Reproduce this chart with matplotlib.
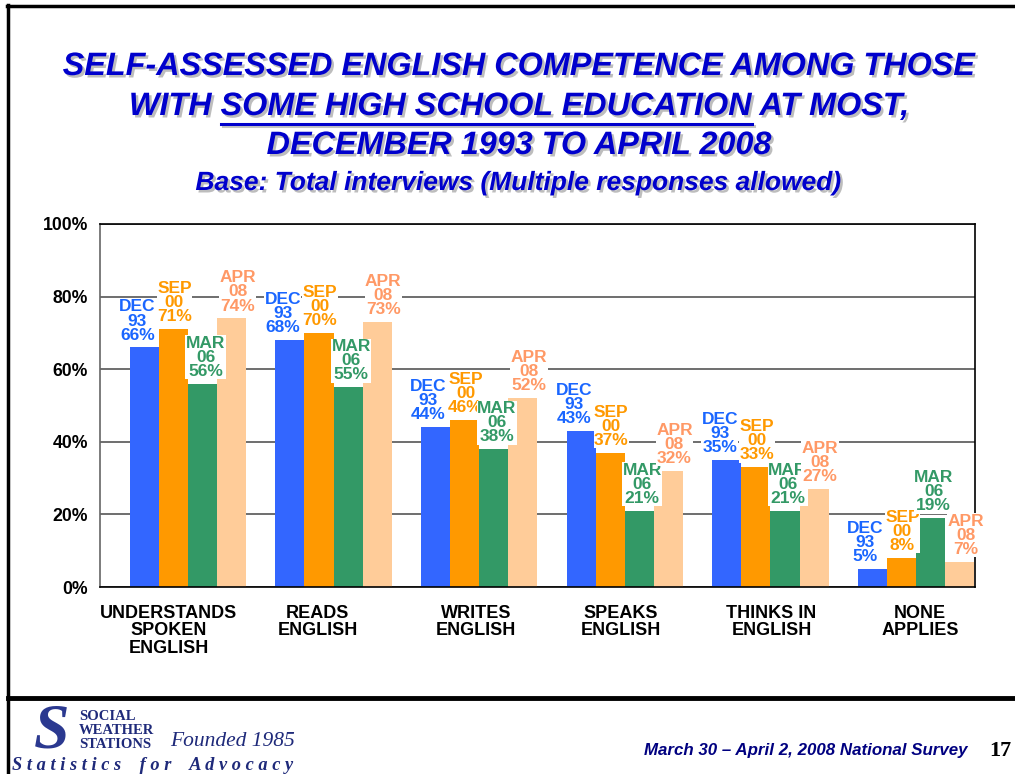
import matplotlib
matplotlib.use("Agg")
import matplotlib.pyplot as plt
import matplotlib.patheffects as pe
from matplotlib.lines import Line2D
import numpy as np

categories = ["UNDERSTANDS\nSPOKEN\nENGLISH", "READS\nENGLISH", "WRITES\nENGLISH",
              "SPEAKS\nENGLISH", "THINKS IN\nENGLISH", "NONE\nAPPLIES"]
series_names = ["DEC\n93", "SEP\n00", "MAR\n06", "APR\n08"]
dec93 = [66, 68, 44, 43, 35, 5]
sep00 = [71, 70, 46, 37, 33, 8]
mar06 = [56, 55, 38, 21, 21, 19]
apr08 = [74, 73, 52, 32, 27, 7]
yticks = [0, 20, 40, 60, 80, 100]
ytick_labels = ["0%", "20%", "40%", "60%", "80%", "100%"]

series = [dec93, sep00, mar06, apr08]
bar_colors = ["#3366FF", "#FF9900", "#339966", "#FFCC99"]
label_colors = ["#1A66FF", "#FF9900", "#339966", "#FF9966"]
label_dx = [-7, 1, 3, 6]  # pixel offsets of value labels
cat_dx = [-19, -16, -3, -4, 1, 4]  # pixel offsets of category labels

plt.rcParams['font.family'] = ['Liberation Sans', 'DejaVu Sans']

W, H = 1015, 774
fig = plt.figure(figsize=(W / 100, H / 100), dpi=100)

def fx(px):
    return px / W

def fy(py):
    return 1 - py / H

# slide frame
fig.add_artist(Line2D([fx(8), fx(8)], [fy(5), fy(774)], color="black", lw=2.5))
fig.add_artist(Line2D([fx(7), fx(1015)], [fy(6), fy(6)], color="black", lw=2.5))
fig.add_artist(Line2D([fx(8), fx(1015)], [fy(698), fy(698)], color="black", lw=3.5))

# axes
ax = fig.add_axes([fx(100), fy(587), fx(975) - fx(100), fy(224) - fy(587)])
x = np.arange(len(categories))
bw = 0.2
for k, (vals, c) in enumerate(zip(series, bar_colors)):
    ax.bar(x + (k - 1.5) * bw, vals, width=bw, color=c, zorder=2)

ax.set_ylim(0, 100)
ax.set_xlim(-0.604, 5.405)
px_per_unit = 875 / (5.405 + 0.604)
ax.set_yticks(yticks)
ax.set_yticklabels(ytick_labels, fontsize=12.7, fontweight="bold")
ax.set_xticks(x + np.array(cat_dx) / px_per_unit)
ax.set_xticklabels(categories, fontsize=13, fontweight="bold", linespacing=1.02, va="top")
ax.tick_params(axis="x", length=0, pad=13)
ax.tick_params(axis="y", length=0, pad=8.5)
for t in ax.get_xticklabels():
    t.set_multialignment("center")
ax.grid(axis="y", color="#555555", lw=1.2, zorder=0)
ax.set_axisbelow(True)
for s in ["top", "right", "bottom"]:
    ax.spines[s].set_color("black")
    ax.spines[s].set_linewidth(1.2)
ax.spines["left"].set_color("#666666")
ax.spines["left"].set_linewidth(1.2)

# value labels
for k in range(4):
    for i, v in enumerate(series[k]):
        xb = i + (k - 1.5) * bw
        ax.annotate(f"{series_names[k]}\n{v}%", xy=(xb, v), xytext=(label_dx[k] * 0.72, 3.5),
                    textcoords="offset points", ha="center", va="bottom",
                    fontsize=12.5, fontweight="bold", color=label_colors[k],
                    linespacing=0.92, multialignment="center", zorder=5 + k,
                    annotation_clip=False,
                    bbox=dict(facecolor="white", edgecolor="none", pad=0.3))

# titles
title_color = "#0000CC"
shadow = [pe.SimplePatchShadow(offset=(1.8, -1.8), shadow_rgbFace="#888888", alpha=0.55), pe.Normal()]
tsize = 23.3
tkw = dict(ha="center", va="center", fontsize=tsize, fontweight="bold", style="italic",
           color=title_color, path_effects=shadow)
fig.text(fx(519), fy(67), "SELF-ASSESSED ENGLISH COMPETENCE AMONG THOSE", **tkw)
line2 = fig.text(fx(519), fy(107), "WITH SOME HIGH SCHOOL EDUCATION AT MOST,", **tkw)
fig.text(fx(519), fy(146), "DECEMBER 1993 TO APRIL 2008", **tkw)
fig.text(fx(518), fy(183), "Base: Total interviews (Multiple responses allowed)",
         ha="center", va="center", fontsize=19, fontweight="bold", style="italic",
         color=title_color, path_effects=shadow)

# underline
renderer = fig.canvas.get_renderer()
bb = line2.get_window_extent(renderer)
tmp1 = fig.text(0, 0, "WITH SOME HIGH SCHOOL EDUCATION", fontsize=tsize, fontweight="bold", style="italic")
tmp2 = fig.text(0, 0, "SOME HIGH SCHOOL EDUCATION", fontsize=tsize, fontweight="bold", style="italic")
w1 = tmp1.get_window_extent(renderer).width
w2 = tmp2.get_window_extent(renderer).width
tmp1.remove()
tmp2.remove()
ux0 = bb.x0 + w1 - w2
ux1 = bb.x0 + w1
fig.add_artist(Line2D([ux0 / W, ux1 / W], [fy(124), fy(124)], color=title_color, lw=2.2,
                      path_effects=[pe.SimpleLineShadow(offset=(1.5, -1.5), shadow_color="#888888", alpha=0.5), pe.Normal()]))

# footer
fig.text(fx(967), fy(750), "March 30 \u2013 April 2, 2008 National Survey", ha="right", va="center",
         fontsize=12.2, fontweight="bold", style="italic", color="#000080")
fig.text(fx(1011), fy(751), "17", ha="right", va="center", fontsize=16, fontweight="bold",
         family="Liberation Serif", color="black")

# logo
navy = "#1F2A7A"
fig.text(fx(52), fy(733), "S", ha="center", va="center", fontsize=46, fontweight="bold",
         style="italic", family="Liberation Serif", color="#2B3990")
fig.text(fx(79), fy(717), "SOCIAL", ha="left", va="center", fontsize=10.5, fontweight="bold",
         family="Liberation Serif", color=navy)
fig.text(fx(79), fy(731), "WEATHER", ha="left", va="center", fontsize=10.5, fontweight="bold",
         family="Liberation Serif", color=navy)
fig.text(fx(79), fy(745), "STATIONS", ha="left", va="center", fontsize=10.5, fontweight="bold",
         family="Liberation Serif", color=navy)
fig.text(fx(170), fy(741), "Founded 1985", ha="left", va="center", fontsize=15.5, style="italic",
         family="Liberation Serif", color=navy)
fig.text(fx(12), fy(765), "S t a t i s t i c s    f o r    A d v o c a c y", ha="left", va="center",
         fontsize=13.2, fontweight="bold", style="italic", family="Liberation Serif", color=navy)

fig.savefig("out.png", dpi=100)
